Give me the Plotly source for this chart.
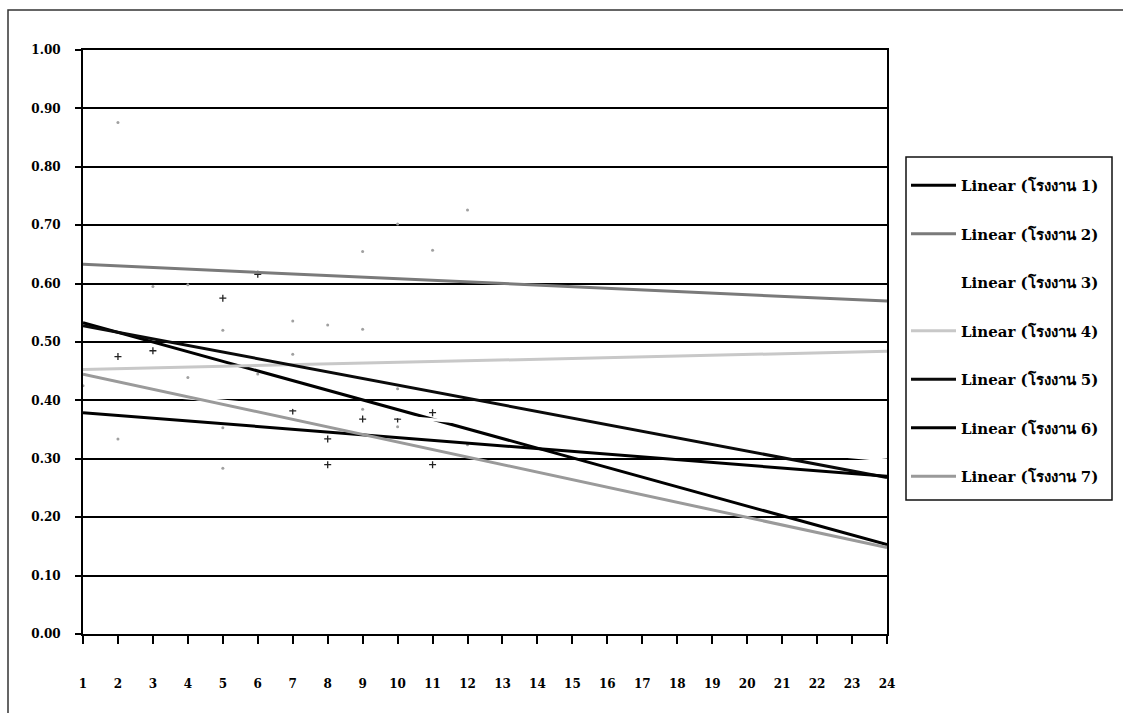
import plotly.graph_objects as go

# ---- data ----
periods = list(range(1, 25))
x_ticks = [str(p) for p in periods]
y_ticks = [0.0, 0.1, 0.2, 0.3, 0.4, 0.5, 0.6, 0.7, 0.8, 0.9, 1.0]

series_names = [
    "Linear (โรงงาน 1)", "Linear (โรงงาน 2)", "Linear (โรงงาน 3)",
    "Linear (โรงงาน 4)", "Linear (โรงงาน 5)", "Linear (โรงงาน 6)",
    "Linear (โรงงาน 7)",
]
trend_start = [0.533, 0.633, 0.420, 0.453, 0.528, 0.379, 0.445]   # value at period 1
trend_end = [0.153, 0.570, 0.298, 0.484, 0.268, 0.270, 0.148]     # value at period 24
series_colors = ["#000000", "#7a7a7a", "#ffffff", "#c8c8c8", "#0a0a0a", "#000000", "#9a9a9a"]

# visible raw data markers (dark crosses / faint grey dots)
dark_x = [6, 5, 2, 3, 7, 9, 10, 11, 8, 8, 11]
dark_y = [0.616, 0.575, 0.475, 0.485, 0.382, 0.368, 0.368, 0.379, 0.334, 0.290, 0.290]
light_x = [2, 3, 4, 5, 7, 8, 9, 7, 4, 6, 9, 10, 5, 2, 12, 9, 11, 12, 10, 5, 10, 1]
light_y = [0.876, 0.595, 0.598, 0.520, 0.536, 0.529, 0.522, 0.479, 0.439, 0.445, 0.385,
           0.355, 0.353, 0.334, 0.324, 0.655, 0.657, 0.726, 0.702, 0.284, 0.420, 0.425]

FONT = "DejaVu Serif"

# plot-area geometry in pixels (used to place paper-referenced items)
L, R, T, B = 83, 887, 50, 634
PW, PH = R - L, B - T


def px_x(p):
    return (p - L) / PW


def px_y(p):
    return (B - p) / PH


fig = go.Figure()

# raw data markers (drawn below trendlines)
fig.add_trace(go.Scatter(x=light_x, y=light_y, mode="markers", showlegend=False,
                         marker=dict(symbol="circle", size=3, color="#a0a0a0"),
                         hoverinfo="skip"))
fig.add_trace(go.Scatter(x=dark_x, y=dark_y, mode="markers", showlegend=False,
                         marker=dict(symbol="cross-thin", size=5, color="#222222",
                                     line=dict(width=1.3, color="#222222")),
                         hoverinfo="skip"))

for i, name in enumerate(series_names):
    x0, x1 = periods[0], periods[-1]
    y0, y1 = trend_start[i], trend_end[i]
    ys = [y0 + (y1 - y0) * (p - x0) / (x1 - x0) for p in periods]
    fig.add_trace(go.Scatter(
        x=periods, y=ys, mode="lines", name=name,
        legendgroup=f"g{i}",
        line=dict(color=series_colors[i], width=3),
    ))

# outer chart-area frame (continues past the crop at right / bottom)
fig.add_shape(type="rect", xref="paper", yref="paper",
              x0=px_x(8), x1=px_x(1140), y0=px_y(730), y1=px_y(10),
              line=dict(color="#333333", width=1.5), fillcolor="rgba(0,0,0,0)", layer="below")
# legend frame
fig.add_shape(type="rect", xref="paper", yref="paper",
              x0=px_x(906), x1=px_x(1112), y0=px_y(500), y1=px_y(157),
              line=dict(color="#111111", width=1.5), fillcolor="rgba(0,0,0,0)", layer="above")

fig.update_layout(
    width=1123, height=713,
    margin=dict(l=L, r=1123 - R, t=T, b=713 - B),
    paper_bgcolor="white", plot_bgcolor="white",
    font=dict(family=FONT, size=12, color="black", weight="bold"),
    showlegend=True,
    legend=dict(
        x=px_x(906), xanchor="left",
        y=px_y(169), yanchor="top",
        borderwidth=0, bgcolor="rgba(0,0,0,0)",
        font=dict(family=FONT, size=15, color="black", weight="bold"),
        traceorder="grouped", tracegroupgap=26,
        itemwidth=45,
    ),
    xaxis=dict(
        range=[1, 24], tickmode="array", tickvals=periods, ticktext=x_ticks,
        showgrid=False, zeroline=False,
        showline=True, linecolor="black", linewidth=2, mirror=True,
        ticks="outside", ticklen=8, tickwidth=1.5, tickcolor="black",
        ticklabelstandoff=30,
        tickfont=dict(family=FONT, size=12, color="black", weight="bold"),
    ),
    yaxis=dict(
        range=[0, 1], tickmode="array", tickvals=y_ticks,
        ticktext=[f"{v:.2f}" for v in y_ticks],
        showgrid=True, gridcolor="black", gridwidth=2, zeroline=False,
        showline=True, linecolor="black", linewidth=2, mirror=True,
        ticks="outside", ticklen=6, tickwidth=1.5, tickcolor="black",
        ticklabelstandoff=12,
        tickfont=dict(family=FONT, size=12, color="black", weight="bold"),
    ),
)

fig.write_html("out.html", config={"displayModeBar": False},
               post_script="document.body.style.margin='0px';")
